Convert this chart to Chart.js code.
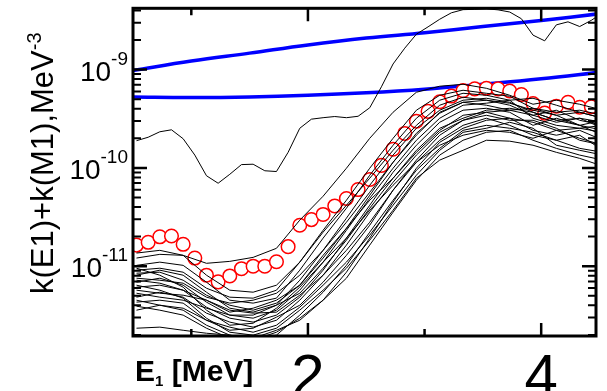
<!DOCTYPE html>
<html>
<head>
<meta charset="utf-8">
<script src="https://cdn.jsdelivr.net/npm/chart.js@4.4.1/dist/chart.umd.min.js"></script>
<style>
  html, body { margin: 0; padding: 0; background: #fff; }
  #wrap { width: 607px; height: 391px; }
</style>
</head>
<body>
<div id="wrap"><canvas id="chart"></canvas></div>
<script>
// strengths are stored in units of 1e-12 MeV^-3
const UNIT = 1e-12;

// gamma energies (MeV)
const energyFine = [0.53, 0.63, 0.73, 0.83, 0.93, 1.03, 1.13, 1.23, 1.33, 1.43, 1.53, 1.63, 1.73, 1.83,
  1.93, 2.03, 2.13, 2.23, 2.33, 2.43, 2.53, 2.63, 2.73, 2.83, 2.93, 3.03, 3.13, 3.23, 3.33, 3.43,
  3.53, 3.63, 3.73, 3.83, 3.93, 4.03, 4.13, 4.23, 4.33, 4.43, 4.53];
const energyCoarse = [0.53, 0.73, 0.93, 1.13, 1.33, 1.53, 1.73, 1.93, 2.13, 2.33, 2.53, 2.73, 2.93,
  3.13, 3.33, 3.53, 3.73, 3.93, 4.13, 4.33, 4.53];
const energyModel = [0.5, 1.0, 1.5, 2.0, 2.5, 3.0, 3.5, 4.0, 4.5];

// red open circles
const measured = [16.4, 17.5, 19.9, 20.3, 16.7, 12.1, 8.1, 6.93, 7.96, 9.43, 10.0, 10.0, 11.1, 15.8,
  26.1, 29.8, 33.6, 41.0, 48.8, 60.2, 76.2, 106, 155, 224, 298, 376, 471, 538, 611, 636,
  645, 636, 605, 557, 451, 361, 424, 465, 414, 418, 91];

// the high black trace
const upperTrace = [189, 205, 233, 244, 198, 135, 83.2, 69.8, 86.1, 108, 109, 93.5, 91.8, 144,
  253, 313, 324, 333, 324, 335, 409, 668, 1140, 1650, 2290, 2720, 3250, 3780, 4070, 4100,
  4150, 4050, 3850, 3290, 2240, 1960, 2850, 3060, 2740, 3170, 3800];

// blue model curves
const modelUpper = [980, 1220, 1470, 1780, 2090, 2370, 2740, 3150, 3700];
const modelLower = [525, 520, 527, 547, 580, 630, 708, 805, 940];

// bundle of black traces (on energyCoarse)
const trace01 = [12.1, 13.2, 12.9, 10.7, 11.2, 12.3, 15.2, 29.4, 51.5, 99.2, 200, 368, 588, 677, 709, 645, 548, 444, 488, 444, 386];
const trace02 = [13.6, 14.5, 12.9, 8.10, 5.70, 5.44, 6.41, 11.0, 23.2, 46.9, 99.2, 200, 386, 548, 616, 574, 535, 404, 368, 386, 343];
const trace03 = [10.2, 11.0, 10.2, 6.88, 4.51, 4.21, 4.73, 9.11, 19.3, 38.9, 84.2, 170, 320, 488, 574, 548, 488, 511, 434, 368, 320];
const trace04 = [9.11, 9.54, 8.69, 5.97, 4.84, 4.73, 5.70, 11.0, 22.2, 41.7, 78.5, 151, 271, 434, 523, 488, 434, 343, 386, 305, 271];
const trace05 = [8.10, 9.11, 8.10, 5.44, 3.74, 3.41, 4.01, 7.20, 14.5, 30.8, 66.6, 135, 253, 386, 488, 511, 465, 368, 305, 320, 291];
const trace06 = [7.55, 7.20, 6.72, 4.84, 4.21, 4.51, 5.31, 8.10, 14.5, 28.0, 56.5, 114, 215, 368, 465, 434, 386, 404, 343, 271, 241];
const trace07 = [6.88, 7.55, 6.41, 4.31, 3.18, 2.96, 3.57, 5.70, 11.0, 23.2, 49.1, 99.2, 191, 320, 434, 455, 488, 320, 271, 253, 230];
const trace08 = [6.12, 6.41, 5.70, 3.83, 2.96, 2.70, 3.18, 4.84, 9.11, 19.3, 41.7, 90.3, 170, 291, 386, 404, 368, 271, 320, 271, 215];
const trace09 = [5.70, 5.31, 5.07, 4.51, 3.41, 3.74, 4.51, 6.41, 12.9, 24.3, 46.9, 78.5, 144, 241, 343, 368, 320, 241, 215, 241, 191];
const trace10 = [4.84, 5.44, 4.84, 3.33, 2.70, 2.40, 2.82, 4.51, 8.10, 16.4, 35.4, 71.5, 135, 230, 305, 343, 305, 305, 253, 191, 170];
const trace11 = [4.31, 4.51, 4.21, 2.82, 2.23, 2.34, 3.03, 4.01, 6.88, 12.9, 26.1, 59.3, 114, 191, 271, 320, 271, 215, 191, 215, 151];
const trace12 = [3.57, 4.01, 3.74, 2.82, 2.40, 2.13, 2.51, 3.83, 6.41, 11.0, 20.7, 41.7, 84.2, 151, 230, 253, 291, 253, 170, 151, 135];
const trace13 = [2.34, 2.40, 2.23, 2.08, 1.99, 1.85, 2.23, 2.82, 4.51, 7.55, 16.4, 35.4, 74.9, 135, 191, 230, 241, 191, 158, 135, 120];
const trace14 = [9.54, 8.10, 6.12, 3.57, 2.51, 2.63, 3.74, 6.12, 11.0, 19.3, 37.1, 66.6, 114, 170, 215, 241, 230, 200, 241, 253, 271];
const trace15 = [6.41, 5.70, 4.73, 2.96, 2.13, 1.99, 2.34, 3.57, 5.70, 9.54, 18.4, 37.1, 78.5, 120, 151, 191, 187, 170, 144, 125, 104];
const trace16 = [4.51, 4.01, 3.57, 2.51, 1.99, 1.77, 1.99, 3.18, 5.44, 10.2, 22.2, 46.9, 94.6, 158, 241, 271, 253, 230, 191, 158, 144];
const trace17 = [5.31, 4.84, 4.51, 3.74, 3.18, 3.18, 4.01, 5.31, 9.54, 18.4, 38.9, 78.5, 151, 253, 320, 386, 404, 368, 305, 271, 305];
const trace18 = [8.49, 8.69, 7.20, 5.07, 4.01, 3.57, 4.21, 6.41, 12.1, 24.3, 52.7, 114, 225, 360, 465, 488, 455, 386, 343, 368, 320];
const trace19 = [7.20, 6.72, 5.70, 4.51, 3.57, 3.33, 3.41, 5.07, 8.10, 14.5, 28.0, 59.3, 120, 215, 305, 368, 386, 343, 291, 320, 253];
const trace20 = [3.92, 3.57, 3.18, 2.34, 1.85, 1.77, 2.13, 2.96, 4.51, 8.69, 19.3, 44.8, 99.2, 182, 253, 305, 320, 291, 241, 200, 170];

const traces = [trace01, trace02, trace03, trace04, trace05, trace06, trace07, trace08, trace09, trace10,
  trace11, trace12, trace13, trace14, trace15, trace16, trace17, trace18, trace19, trace20];

// axis ticks
const xMajorTicks = [2, 4];
const xMinorTicks = [1, 3];
const yLabelExponents = [-9, -10, -11];

const FONT = "'Liberation Sans', Arial, sans-serif";

function toPoints(xs, ys) {
  return ys.map((v, i) => ({ x: xs[i], y: v * UNIT }));
}

function blackLine(xs, ys) {
  return {
    data: toPoints(xs, ys),
    borderColor: "#000",
    borderWidth: 1,
    pointRadius: 0,
    tension: 0,
  };
}

const datasets = traces.map((t) => blackLine(energyCoarse, t));
datasets.push(blackLine(energyFine, upperTrace));
datasets.push({
  data: toPoints(energyFine, measured),
  showLine: false,
  pointRadius: 6.8,
  pointBorderWidth: 1.5,
  pointBorderColor: "#ff0000",
  pointBackgroundColor: "#ffffff",
});
[modelUpper, modelLower].forEach((m) => {
  datasets.push({
    data: toPoints(energyModel, m),
    borderColor: "#0000ff",
    borderWidth: 3.5,
    pointRadius: 0,
    tension: 0.4,
  });
});

// frame, inward ticks and the axis texts
const framePlugin = {
  id: "frame",
  afterDatasetsDraw(chart) {
    const { ctx, chartArea: a } = chart;
    const xs = chart.scales.x;
    const ys = chart.scales.y;
    ctx.save();
    ctx.strokeStyle = "#000";
    ctx.lineCap = "butt";

    // y ticks on left and right
    for (let e = -12; e <= -9; e++) {
      for (let m = 1; m <= 9; m++) {
        const v = m * Math.pow(10, e);
        if (v < ys.min || v > ys.max) continue;
        const py = ys.getPixelForValue(v);
        const len = m === 1 ? 14 : 8;
        ctx.lineWidth = m === 1 ? 2.5 : 2;
        ctx.beginPath();
        ctx.moveTo(a.left, py);
        ctx.lineTo(a.left + len, py);
        ctx.moveTo(a.right, py);
        ctx.lineTo(a.right - len, py);
        ctx.stroke();
      }
    }

    // x ticks on top and bottom
    const drawX = (vals, len) => {
      vals.forEach((v) => {
        const px = xs.getPixelForValue(v);
        ctx.lineWidth = 2.5;
        ctx.beginPath();
        ctx.moveTo(px, a.top);
        ctx.lineTo(px, a.top + len);
        ctx.moveTo(px, a.bottom);
        ctx.lineTo(px, a.bottom - len);
        ctx.stroke();
      });
    };
    drawX(xMajorTicks, 13);
    drawX(xMinorTicks, 7);

    ctx.lineWidth = 3;
    ctx.strokeRect(a.left, a.top, a.right - a.left, a.bottom - a.top);

    ctx.fillStyle = "#000";
    ctx.textBaseline = "alphabetic";

    // y tick labels: 10 with a raised exponent
    yLabelExponents.forEach((e) => {
      const py = ys.getPixelForValue(Math.pow(10, e));
      const sup = String(e);
      ctx.font = "19px " + FONT;
      ctx.textAlign = "right";
      const supW = ctx.measureText(sup).width;
      ctx.fillText(sup, a.left - 5, py - 5);
      ctx.font = "28px " + FONT;
      ctx.fillText("10", a.left - 5 - supW, py + 11);
    });

    // x tick labels
    ctx.textAlign = "center";
    ctx.font = "60px " + FONT;
    xMajorTicks.forEach((v) => {
      ctx.fillText(String(v), xs.getPixelForValue(v), 396);
    });

    // x title
    ctx.textAlign = "left";
    ctx.font = "bold 30px " + FONT;
    ctx.fillText("E", 135, 381);
    let cx = 135 + ctx.measureText("E").width;
    ctx.font = "bold 15px " + FONT;
    ctx.fillText("1", cx, 386);
    cx += ctx.measureText("1").width;
    ctx.font = "bold 30px " + FONT;
    ctx.fillText(" [MeV]", cx, 381);

    // y title, rotated
    ctx.save();
    ctx.translate(53, 294);
    ctx.rotate(-Math.PI / 2);
    ctx.font = "31px " + FONT;
    ctx.fillText("k(E1)+k(M1),MeV", 0, 0);
    const tw = ctx.measureText("k(E1)+k(M1),MeV").width;
    ctx.font = "20px " + FONT;
    ctx.fillText("-3", tw, -12);
    ctx.restore();

    ctx.restore();
  },
};

new Chart(document.getElementById("chart"), {
  type: "line",
  data: { datasets },
  options: {
    responsive: true,
    maintainAspectRatio: false,
    animation: false,
    layout: { padding: { left: 133, top: 8, right: 11, bottom: 55 } },
    scales: {
      x: { type: "linear", min: 0.5, max: 4.47, display: false },
      y: { type: "logarithmic", min: 1.95e-12, max: 4.2e-9, display: false },
    },
    plugins: { legend: { display: false }, tooltip: { enabled: false } },
  },
  plugins: [framePlugin],
});
</script>
</body>
</html>
